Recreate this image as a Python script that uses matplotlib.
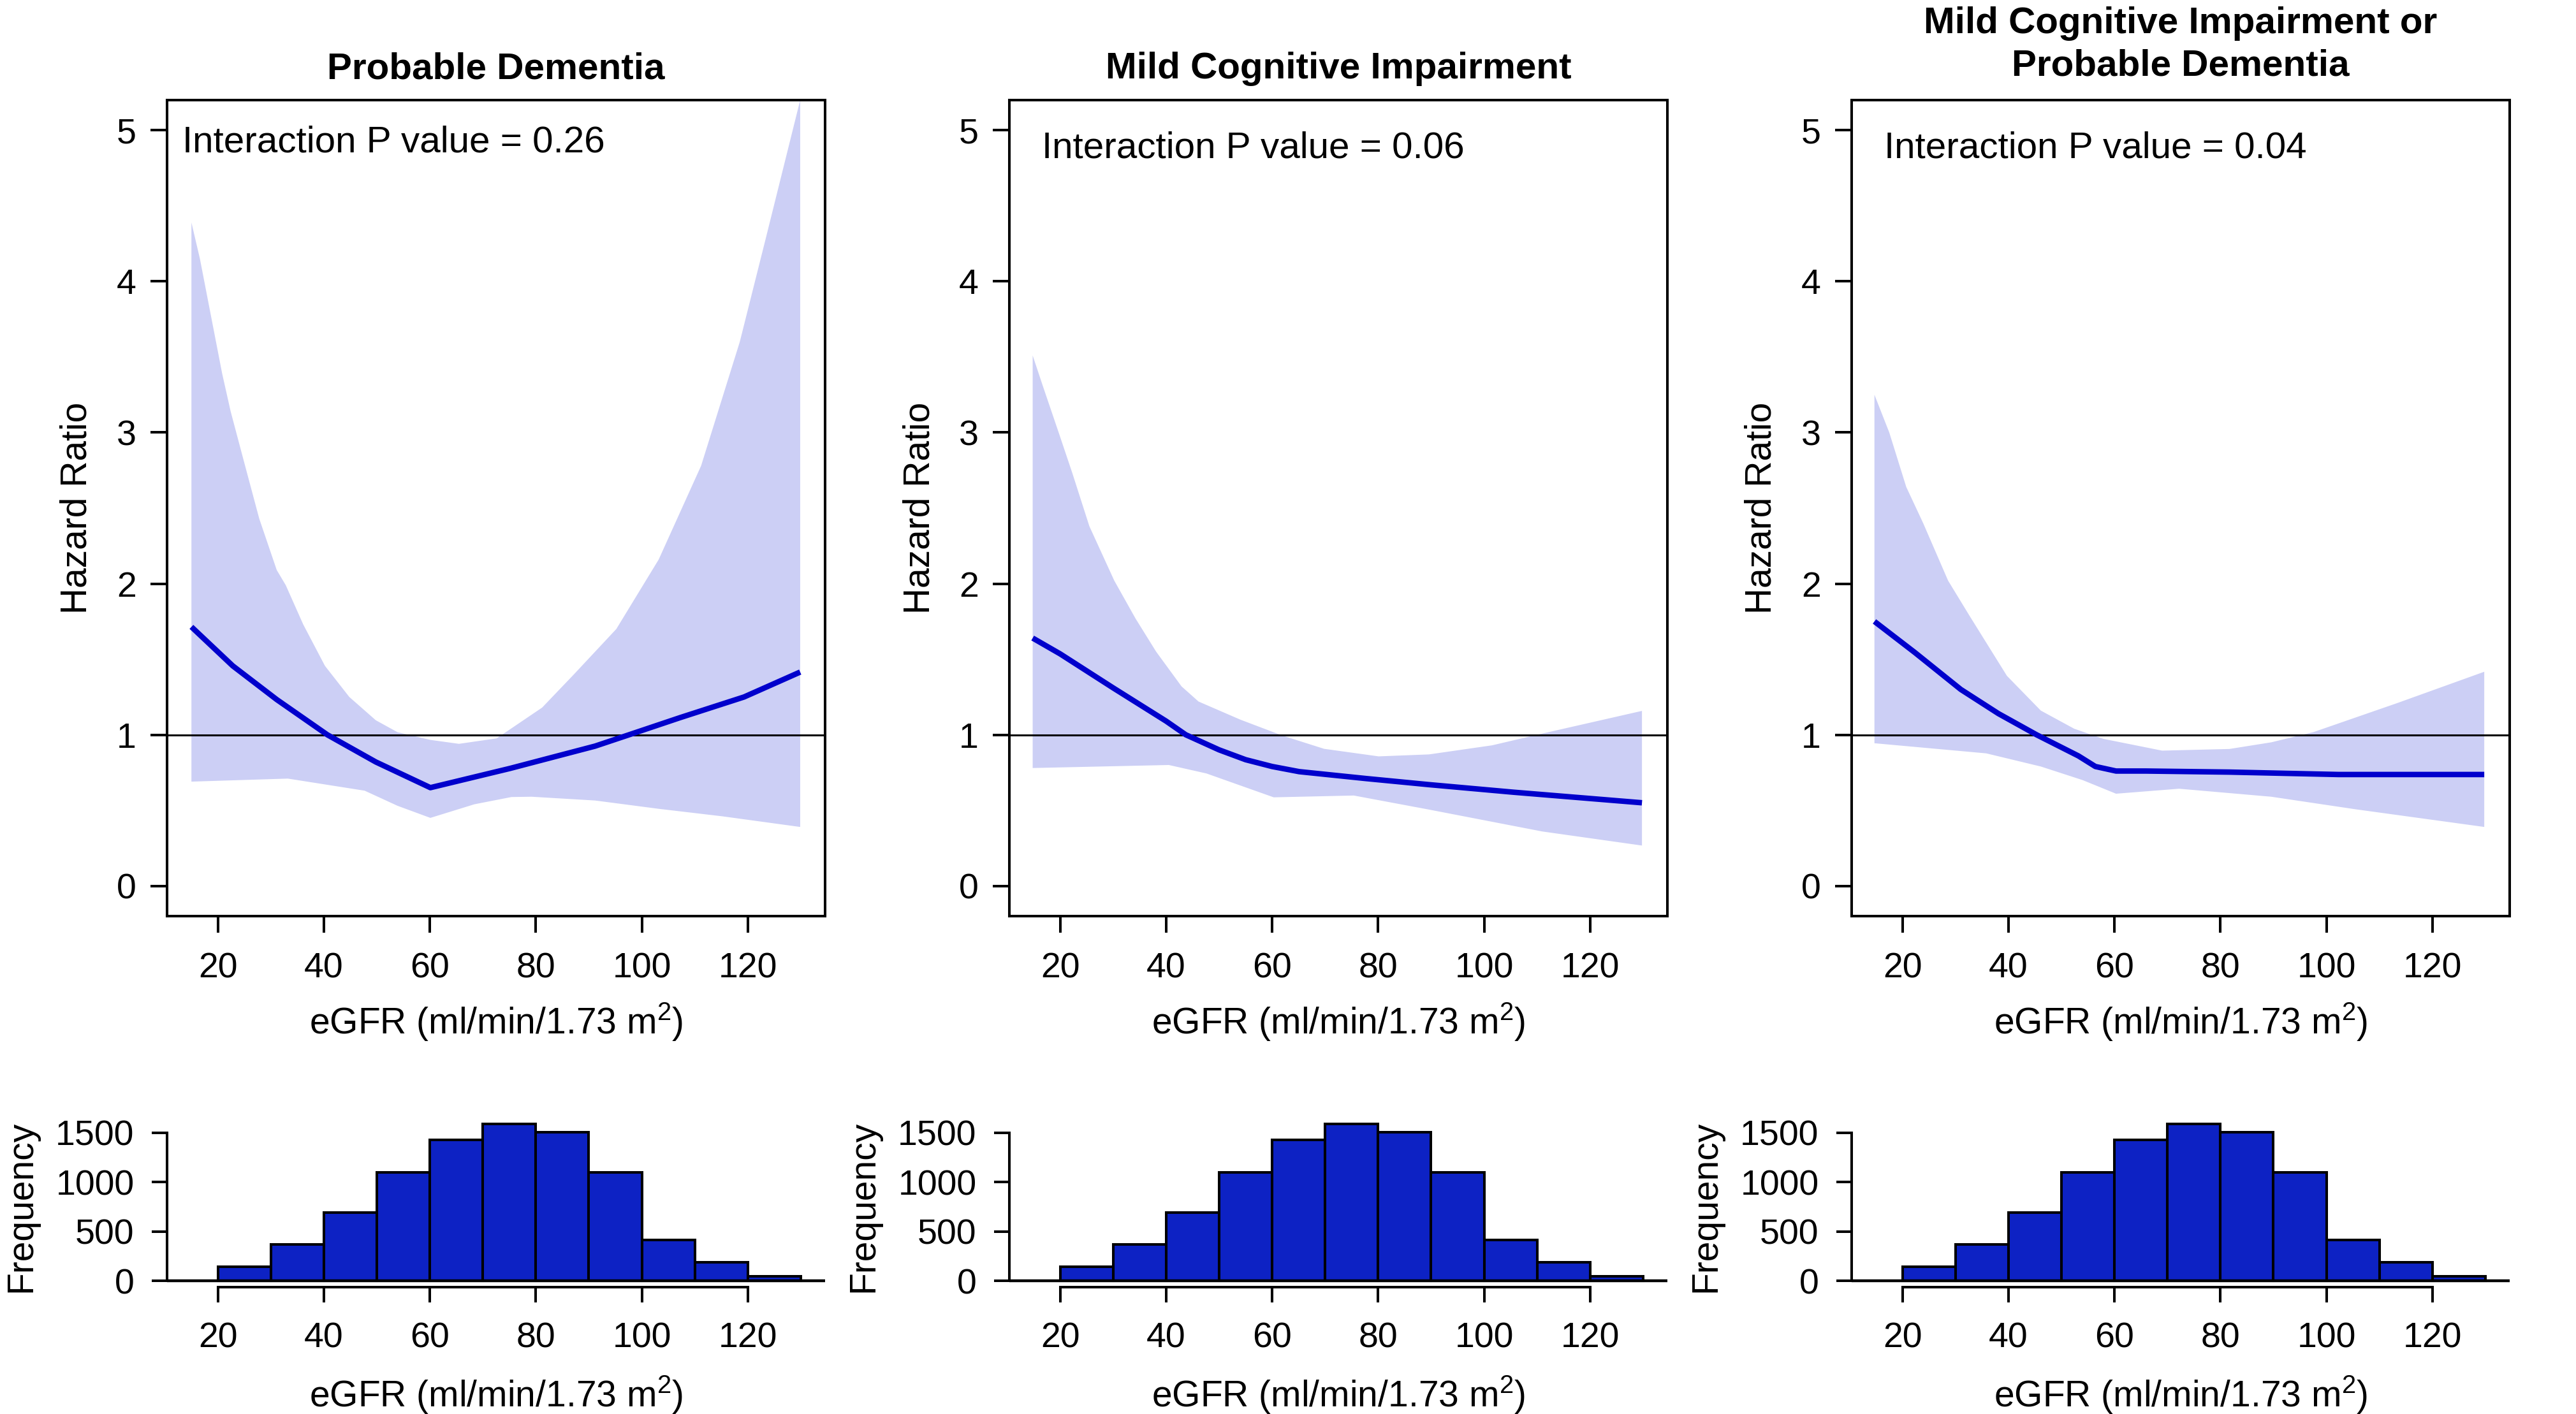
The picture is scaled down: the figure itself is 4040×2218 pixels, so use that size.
import numpy as np
import matplotlib
matplotlib.use("Agg")
import matplotlib.pyplot as plt

plt.rcParams['font.family'] = ['Liberation Sans', 'DejaVu Sans']
plt.rcParams['mathtext.fontset'] = 'custom'
plt.rcParams['mathtext.rm'] = 'Liberation Sans'
plt.rcParams['mathtext.default'] = 'regular'

# ---------------- data ----------------
titles = ["Probable Dementia", "Mild Cognitive Impairment",
          "Mild Cognitive Impairment or\nProbable Dementia"]
p_texts = ["Interaction P value = 0.26", "Interaction P value = 0.06",
           "Interaction P value = 0.04"]

# Probable Dementia
pd_x = [15, 22.8, 31.1, 40.65, 49.8, 60.1, 75.1, 91.2, 97.6, 107.2, 119.3, 129.9]
pd_hr = [1.714, 1.456, 1.233, 1.0, 0.82, 0.65, 0.777, 0.925, 1.0, 1.113, 1.25, 1.415]
pd_up_x = [15, 16.6, 18.7, 20.8, 22.4, 24.9, 27.8, 31.1, 32.8, 36.1, 40.2, 44.8, 49.8, 53.9,
           60.1, 65.5, 72.6, 81.2, 87.2, 95.2, 103.2, 111.2, 118.5, 123.3, 129.9]
pd_up = [4.39, 4.15, 3.77, 3.39, 3.14, 2.81, 2.43, 2.09, 1.99, 1.73, 1.456, 1.25, 1.096, 1.017,
         0.966, 0.94, 0.976, 1.18, 1.40, 1.70, 2.16, 2.78, 3.60, 4.27, 5.2]
pd_lo_x = [15, 33.2, 47.7, 53.9, 60.1, 68.4, 75.4, 79.2, 91.2, 103.2, 115.3, 129.9]
pd_lo = [0.69, 0.71, 0.63, 0.53, 0.45, 0.54, 0.588, 0.59, 0.565, 0.51, 0.46, 0.39]

# Mild Cognitive Impairment
mci_x = [14.8, 20, 30, 40, 43.7, 50, 55, 60, 65.1, 77.8, 89.6, 105.5, 129.8]
mci_hr = [1.64, 1.535, 1.31, 1.09, 1.0, 0.90, 0.835, 0.79, 0.756, 0.71, 0.67, 0.62, 0.55]
mci_up_x = [14.8, 16.7, 19.9, 22.3, 25.5, 30.2, 34.2, 38.1, 42.9, 46.1, 54.0, 61.9, 69.8,
            80.1, 89.6, 101.5, 111.0, 129.8]
mci_up = [3.51, 3.31, 2.98, 2.73, 2.38, 2.02, 1.77, 1.55, 1.32, 1.22, 1.10, 0.995, 0.907,
          0.857, 0.87, 0.93, 1.008, 1.158]
mci_lo_x = [14.8, 40.5, 47.6, 60.3, 75.4, 89.6, 111.0, 129.8]
mci_lo = [0.78, 0.80, 0.744, 0.586, 0.598, 0.505, 0.36, 0.267]

# MCI or Probable Dementia
any_x = [14.7, 22.3, 31.0, 38.1, 45.3, 53.2, 56.4, 60.3, 65.9, 81.7, 102.3, 129.8]
any_hr = [1.75, 1.545, 1.30, 1.14, 1.0, 0.86, 0.79, 0.76, 0.76, 0.753, 0.737, 0.737]
any_up_x = [14.7, 17.5, 20.7, 23.9, 28.6, 32.6, 39.7, 46.1, 52.4, 57.9, 69.0, 81.7, 89.6,
            97.6, 113.4, 129.8]
any_up = [3.25, 3.00, 2.64, 2.40, 2.02, 1.79, 1.39, 1.16, 1.04, 0.973, 0.895, 0.906, 0.95,
          1.018, 1.21, 1.417]
any_lo_x = [14.7, 35.8, 46.1, 54.0, 60.3, 72.2, 89.6, 105.5, 129.8]
any_lo = [0.944, 0.877, 0.79, 0.70, 0.61, 0.643, 0.59, 0.507, 0.39]

series = [(pd_x, pd_hr, pd_up_x, pd_up, pd_lo_x, pd_lo),
          (mci_x, mci_hr, mci_up_x, mci_up, mci_lo_x, mci_lo),
          (any_x, any_hr, any_up_x, any_up, any_lo_x, any_lo)]

hist_edges = [20, 30, 40, 50, 60, 70, 80, 90, 100, 110, 120, 130]
hist_counts = [140, 370, 690, 1100, 1430, 1590, 1505, 1100, 415, 190, 45]

x_ticks = [20, 40, 60, 80, 100, 120]
y_ticks = [0, 1, 2, 3, 4, 5]
hist_yticks = [0, 500, 1000, 1500]

# ---------------- layout ----------------
W, H = 4040, 2218
fig = plt.figure(figsize=(W / 100, H / 100), dpi=100)

def px_axes(left, top, right, bottom):
    return fig.add_axes([left / W, 1 - bottom / H, (right - left) / W, (bottom - top) / H])

lefts = [262, 1583, 2904]
pw = 1032
ptxt_pos = [(13.3, 4.92), (16.5, 4.88), (16.5, 4.88)]
FS = 40
LW = 2.9
line_col = '#0000CC'
band_col = '#CCCFF5'
hist_col = '#0D22C4'
xlabel = r'eGFR (ml/min/1.73 m$^{2}$)'

for i in range(3):
    L = lefts[i]
    x, hr, ux, up, lx, lo = series[i]
    ax = px_axes(L, 157, L + pw, 1437)
    ax.fill(list(ux) + list(lx[::-1]), list(up) + list(lo[::-1]),
            color=band_col, linewidth=0, zorder=1)
    ax.axhline(1, color='black', linewidth=2.2, zorder=2)
    ax.plot(x, hr, color=line_col, linewidth=6.2, zorder=3, solid_capstyle='butt',
            solid_joinstyle='round')
    ax.set_xlim(10.4, 134.6)
    ax.set_ylim(-0.2, 5.2)
    ax.set_xticks(x_ticks)
    ax.set_yticks(y_ticks)
    ax.tick_params(axis='both', length=18.7, width=LW, labelsize=FS, direction='out')
    ax.tick_params(axis='x', pad=22)
    ax.tick_params(axis='y', pad=16)
    for s in ax.spines.values():
        s.set_linewidth(LW)
    ax.text(ptxt_pos[i][0], ptxt_pos[i][1], p_texts[i], fontsize=42, ha='left', va='center')
    cx = (L + pw / 2) / W
    fig.text(cx, 1 - 1603 / H, xlabel, fontsize=41, ha='center', va='center')
    fig.text((L - 141) / W, 1 - 797 / H, 'Hazard Ratio', fontsize=41, rotation=90,
             ha='center', va='center')
    if i < 2:
        fig.text(cx, 1 - 108 / H, titles[i], fontsize=42, fontweight='bold', ha='center', va='center')
    else:
        fig.text(cx, 1 - 70 / H, titles[i], fontsize=42, fontweight='bold', ha='center', va='center',
                 linespacing=1.3)

    # histogram
    hx = px_axes(L, 1753, L + pw, 2019)
    widths = np.diff(hist_edges)
    hx.bar(hist_edges[:-1], hist_counts, width=widths, align='edge', color=hist_col,
           edgecolor='black', linewidth=2.9, zorder=2)
    hx.axhline(0, color='black', linewidth=3.2, zorder=3)
    hx.set_xlim(10.4, 134.6)
    hx.set_ylim(-63.6, 1653.6)
    hx.set_xticks(x_ticks)
    hx.set_yticks(hist_yticks)
    hx.spines['top'].set_visible(False)
    hx.spines['right'].set_visible(False)
    hx.spines['left'].set_bounds(0, 1500)
    hx.spines['bottom'].set_bounds(20, 120)
    hx.spines['left'].set_linewidth(LW)
    hx.spines['bottom'].set_linewidth(LW)
    hx.tick_params(axis='both', length=17, width=LW, labelsize=FS, direction='out')
    hx.tick_params(axis='x', pad=22)
    hx.tick_params(axis='y', pad=20)
    fig.text(cx, 1 - 2188 / H, xlabel, fontsize=41, ha='center', va='center')
    fig.text((L - 229) / W, 1 - 1892 / H, 'Frequency', fontsize=41, rotation=90,
             ha='center', va='center')

fig.savefig('out.png', dpi=100)
